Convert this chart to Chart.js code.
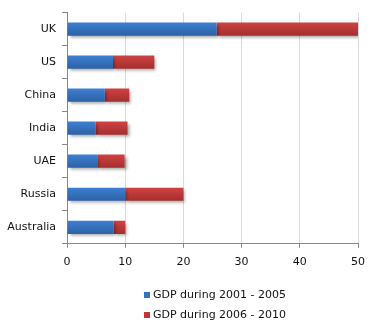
<!DOCTYPE html>
<html>
<head>
<meta charset="utf-8">
<script src="https://cdn.jsdelivr.net/npm/chart.js@4"></script>
<style>
    html, body { margin: 0; padding: 0; background: #fff; }
    #wrap { width: 370px; height: 334px; }
</style>
</head>
<body>
<div id="wrap"><canvas id="gdpChart" width="370" height="334"></canvas></div>
<script>
const countries = ["UK", "US", "China", "India", "UAE", "Russia", "Australia"];
const gdp2001to2005 = [25.7, 7.9, 6.5, 4.9, 5.2, 10, 8];
const gdp2006to2010 = [24.3, 7.1, 4.2, 5.5, 4.7, 10, 2];
const seriesNames = ["GDP during 2001 - 2005", "GDP during 2006 - 2010"];
const xTicks = [0, 10, 20, 30, 40, 50];

const fontFamily = "'DejaVu Sans', Verdana, sans-serif";

// vertical gradient for each bar, lighter on top
function barFill(top, bottom) {
    return function (c) {
        const chart = c.chart;
        const y = chart.scales.y;
        if (!y || c.dataIndex === undefined) return top;
        const yc = y.getPixelForValue(c.dataIndex);
        if (!isFinite(yc)) return top;
        const g = chart.ctx.createLinearGradient(0, yc - 7, 0, yc + 7);
        g.addColorStop(0, top);
        g.addColorStop(1, bottom);
        return g;
    };
}

// soft drop shadow under bars
const barShadow = {
    id: "barShadow",
    beforeDatasetsDraw(chart) {
        const ctx = chart.ctx;
        ctx.save();
        ctx.shadowColor = "rgba(0,0,0,0.35)";
        ctx.shadowBlur = 3;
        ctx.shadowOffsetX = 2;
        ctx.shadowOffsetY = 2;
    },
    afterDatasetsDraw(chart) {
        chart.ctx.restore();
    },
};

// stacked (one item per row) legend under the x axis
const rowLegend = {
    id: "rowLegend",
    afterDraw(chart) {
        const ctx = chart.ctx;
        const area = chart.chartArea;
        ctx.save();
        ctx.font = "11px " + fontFamily;
        ctx.textBaseline = "middle";
        ctx.textAlign = "left";
        const box = 6;
        const gap = 3;
        let widest = 0;
        chart.data.datasets.forEach((ds) => {
            widest = Math.max(widest, ctx.measureText(ds.label).width);
        });
        const left = Math.round((area.left + area.right) / 2 - (box + gap + widest) / 2 + 3);
        const top = chart.scales.x.bottom + 18;
        chart.data.datasets.forEach((ds, i) => {
            const yc = top + i * 20;
            ctx.fillStyle = ds.legendColor;
            ctx.fillRect(left, yc - 3, box, box);
            ctx.fillStyle = "#111";
            ctx.fillText(ds.label, left + box + gap, yc);
        });
        ctx.restore();
    },
};

const ctx = document.getElementById("gdpChart").getContext("2d");

new Chart(ctx, {
    type: "bar",
    data: {
        labels: countries,
        datasets: [
            {
                label: seriesNames[0],
                data: gdp2001to2005,
                backgroundColor: barFill("#3E80D3", "#2C60A4"),
                legendColor: "#3670BE",
            },
            {
                label: seriesNames[1],
                data: gdp2006to2010,
                backgroundColor: barFill("#D04242", "#A32E2E"),
                legendColor: "#BE3838",
            },
        ],
    },
    options: {
        indexAxis: "y",
        responsive: false,
        animation: false,
        layout: {
            padding: { top: 6, right: 12, bottom: 57, left: 5 },
        },
        barPercentage: 0.4,
        categoryPercentage: 1,
        scales: {
            x: {
                stacked: true,
                min: 0,
                max: 50,
                afterBuildTicks: (s) => {
                    s.ticks = xTicks.map((v) => ({ value: v }));
                },
                afterFit: (s) => {
                    s.paddingRight = 0;
                },
                grid: {
                    color: "#d9d9d9",
                    tickColor: "#888",
                    tickLength: 4,
                },
                border: { color: "#888" },
                ticks: {
                    color: "#111",
                    padding: 8,
                    font: { family: fontFamily, size: 11 },
                },
            },
            y: {
                stacked: true,
                afterFit: (s) => {
                    s.width = 62;
                },
                grid: {
                    drawOnChartArea: false,
                    tickColor: "#888",
                    tickLength: 5,
                },
                border: { color: "#888" },
                ticks: {
                    color: "#111",
                    padding: 6,
                    font: { family: fontFamily, size: 11 },
                },
            },
        },
        plugins: {
            legend: { display: false },
            tooltip: { enabled: false },
        },
    },
    plugins: [barShadow, rowLegend],
});
</script>
</body>
</html>
